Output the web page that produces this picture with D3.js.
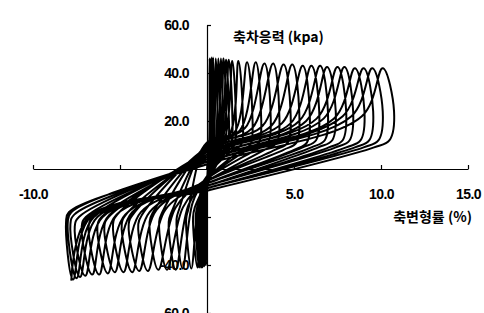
<!DOCTYPE html>
<html>
<head>
<meta charset="utf-8">
<script src="https://cdn.jsdelivr.net/npm/d3@7"></script>
<style>
  body { margin: 0; background: #fff; }
  svg { display: block; }
  .tick text { font-family: "Liberation Sans", Arial, sans-serif; font-weight: bold; fill: #000; }
  .title { font-family: "Noto Sans CJK KR", sans-serif; font-weight: bold; fill: #000; }
</style>
</head>
<body>
<div id="chart"></div>
<script>
// axis ticks
var strainTicks = [-10, -5, 0, 5, 10, 15];
var strainLabels = ["-10.0", "", "", "5.0", "10.0", "15.0"];
var stressTicks = [-60, -40, -20, 0, 20, 40, 60];
var stressLabels = ["-60.0", "-40.0", "", "", "20.0", "40.0", "60.0"];

// one entry per cycle: tip strain (%) and tip stress (kPa)
var posTip  = [0.15, 0.25, 0.35, 0.5, 0.65, 0.8, 0.95, 1.1, 1.25, 1.45, 1.8, 2.3, 2.8, 3.3, 3.8, 4.4, 4.9, 5.5, 6.0, 6.5, 6.9, 7.5, 7.9, 8.5, 9.0, 9.5, 10.1];
var posPeak = [46, 46.5, 46.5, 46, 46, 46, 46, 45.5, 45.5, 45, 45, 44.5, 44.5, 44, 44, 43.5, 43.5, 43, 43, 43, 42.5, 42.5, 42.5, 42, 42, 42, 42];
var negTip  = [-0.05, -0.1, -0.15, -0.2, -0.25, -0.3, -0.35, -0.45, -0.55, -0.9, -1.4, -1.8, -2.3, -2.8, -3.4, -3.9, -4.3, -4.8, -5.3, -5.7, -6.2, -6.6, -7.0, -7.3, -7.5, -7.7, -7.8];
var negPeak = [-40, -40, -40.5, -40.5, -41, -41, -41, -41, -41, -41.5, -41.5, -42, -42, -42, -42.5, -42.5, -43, -43, -43, -43.5, -44, -44, -44.5, -45, -45.5, -46, -46.5];

// how far each branch swings past its tip before turning back (strain %)
var rightBulge = [0.05, 0.05, 0.05, 0.1, 0.1, 0.1, 0.15, 0.15, 0.2, 0.2, 0.25, 0.3, 0.3, 0.35, 0.35, 0.4, 0.4, 0.4, 0.45, 0.45, 0.5, 0.5, 0.5, 0.55, 0.55, 0.6, 0.65];
var leftBulge  = [0.05, 0.05, 0.1, 0.1, 0.15, 0.15, 0.2, 0.2, 0.25, 0.3, 0.35, 0.4, 0.45, 0.5, 0.55, 0.6, 0.6, 0.6, 0.6, 0.6, 0.6, 0.6, 0.6, 0.55, 0.5, 0.4, 0.3];

// stress (kPa) where the branches bend, and where they cross zero strain
var loadKneeL   = [-12, -12, -13, -13, -14, -14, -15, -15, -16, -16, -17, -17, -18, -18, -18, -19, -19, -19, -19, -20, -20, -20, -20, -20, -19, -18, -18];
var loadMid     = [12, 12, 12, 12, 12, 12, 12, 12, 12, 12, 11, 11, 10, 10, 9, 9, 8, 7, 7, 6, 5, 5, 4, 4, 3, 3, 2];
var loadKneeR   = [10, 10, 10, 10, 10, 11, 11, 12, 12, 13, 14, 15, 16, 17, 17, 18, 18, 19, 19, 20, 20, 21, 21, 21, 22, 22, 22];
var unloadKneeR = [6, 6, 6, 6, 6, 6, 6, 7, 7, 7, 7, 7, 8, 8, 8, 8, 8, 8, 9, 9, 9, 9, 9, 9, 9, 9, 9];
var unloadMid   = [-2, -2, -2, -2, -2, -2, -2, -3, -3, -3, -3, -4, -4, -4, -5, -5, -5, -6, -6, -6, -7, -7, -7, -8, -8, -8, -9];
var unloadKneeL = [-8, -8, -9, -9, -10, -10, -11, -11, -12, -13, -14, -15, -16, -16, -17, -17, -18, -18, -18, -19, -19, -19, -20, -20, -20, -20, -20];

var width = 484, height = 313;

var svg = d3.select("#chart")
  .append("svg")
    .attr("width", width)
    .attr("height", height);

var x = d3.scaleLinear().domain([-10, 15]).range([33, 468]);
var y = d3.scaleLinear().domain([-60, 60]).range([313, 25]);

// x axis, ticks pointing up
var xAxis = svg.append("g")
  .attr("transform", "translate(0," + y(0) + ")")
  .call(d3.axisBottom(x)
    .tickValues(strainTicks)
    .tickFormat(function (d, i) { return strainLabels[i]; })
    .tickSizeInner(-4)
    .tickSizeOuter(0)
    .tickPadding(20));
xAxis.select(".domain").attr("stroke", "#000").attr("stroke-width", 1.2);
xAxis.selectAll(".tick line").attr("stroke", "#000").attr("stroke-width", 1.2);
xAxis.selectAll(".tick text").attr("font-size", 14).attr("letter-spacing", -0.6);

// y axis, ticks pointing right
var yAxis = svg.append("g")
  .attr("transform", "translate(" + x(0) + ",0)")
  .call(d3.axisLeft(y)
    .tickValues(stressTicks)
    .tickFormat(function (d, i) { return stressLabels[i]; })
    .tickSizeInner(-4)
    .tickSizeOuter(0)
    .tickPadding(18));
yAxis.select(".domain").attr("stroke", "#000").attr("stroke-width", 1.2);
yAxis.selectAll(".tick line").attr("stroke", "#000").attr("stroke-width", 1.2);
yAxis.selectAll(".tick text").attr("font-size", 14).attr("letter-spacing", -0.6);

svg.append("text").attr("class", "title")
  .attr("x", 233).attr("y", 42)
  .attr("font-size", 14)
  .text("축차응력 (kpa)");

svg.append("text").attr("class", "title")
  .attr("x", 472).attr("y", 222)
  .attr("text-anchor", "end")
  .attr("font-size", 14)
  .text("축변형률 (%)");

// hysteresis path: 0 -> posTip[0] -> negTip[0] -> posTip[1] -> ... -> negTip[n-1]
var pts = [[0, 0]];
for (var i = 0; i < posTip.length; i++) {
  var ep = posTip[i], qp = posPeak[i];
  var en = i > 0 ? negTip[i - 1] : 0;
  var enN = negTip[i], qnN = negPeak[i];
  var dR = Math.min(1.2, (ep - en) * 0.2);

  if (i > 0) {
    // loading out of the previous negative tip: straight leg up-left, then turn right
    var bl = leftBulge[i - 1];
    pts.push([en - bl, loadKneeL[i] - 4]);
    pts.push([en - bl * 0.6, loadKneeL[i]]);
    if (en < -0.6 && ep - dR > 0.3) pts.push([0, loadMid[i]]);
  }
  pts.push([ep - dR, loadKneeR[i]]);
  pts.push([ep, qp]);

  // unloading from the positive tip: leg down-right, then back along the band
  var br = rightBulge[i];
  var dL = Math.min(1.0, (ep - enN) * 0.18);
  pts.push([ep + br, 24]);
  pts.push([ep + br * 0.6, unloadKneeR[i] + 3]);
  pts.push([ep - Math.min(0.5, (ep - enN) * 0.15), unloadKneeR[i]]);
  if (enN < -0.6 && ep > 0.8) pts.push([0, unloadMid[i]]);
  pts.push([enN + dL, unloadKneeL[i]]);
  pts.push([enN, qnN]);
}

var line = d3.line()
  .x(function (d) { return x(d[0]); })
  .y(function (d) { return y(d[1]); })
  .curve(d3.curveCatmullRom.alpha(0.5));

svg.append("path")
  .datum(pts)
  .attr("fill", "none")
  .attr("stroke", "#000")
  .attr("stroke-width", 2)
  .attr("stroke-linejoin", "round")
  .attr("d", line);
</script>
</body>
</html>
